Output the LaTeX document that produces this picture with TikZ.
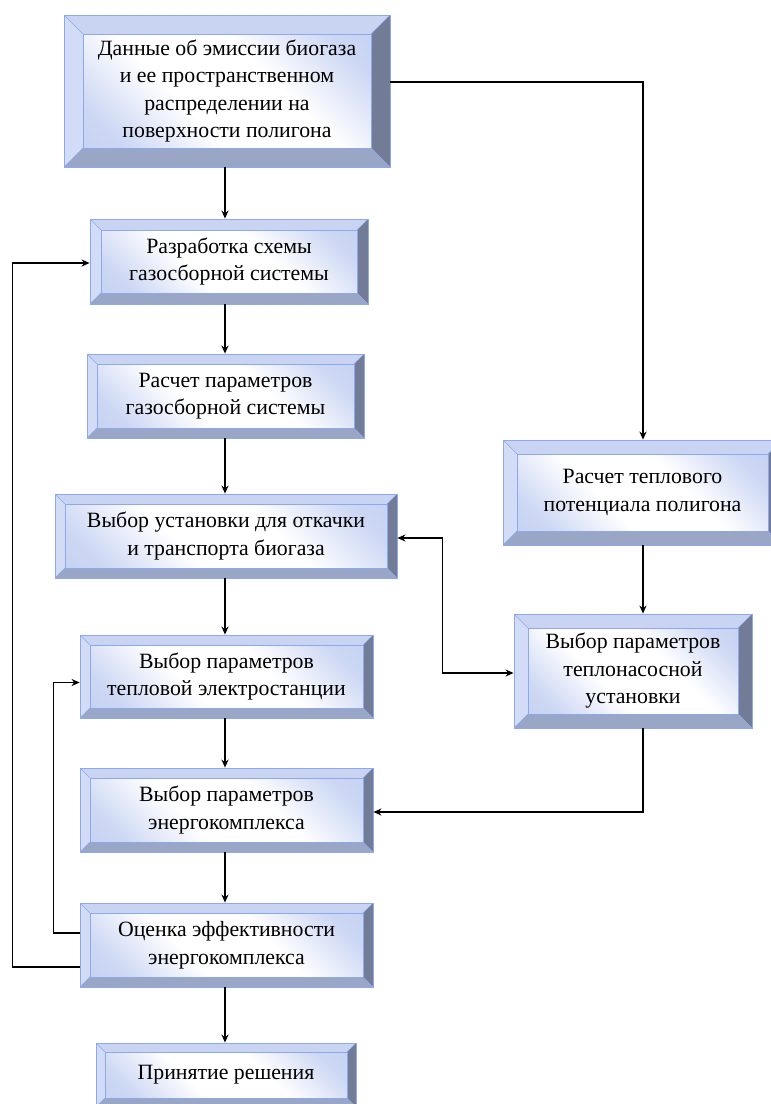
\documentclass[tikz,border=0pt]{standalone}
\usepackage{fontspec}
\setmainfont{Liberation Serif}
\usetikzlibrary{arrows.meta}
\definecolor{edgec}{HTML}{8EA8EE}
\definecolor{topc}{HTML}{C9D4F3}
\definecolor{leftc}{HTML}{D3DCF6}
\definecolor{rightc}{HTML}{737C96}
\definecolor{botc}{HTML}{99A6C6}
\definecolor{facec}{HTML}{BCCAF0}
\pgfdeclarehorizontalshading{bevface}{100bp}{color(0bp)=(facec); color(22bp)=(facec!75!white); color(40bp)=(white); color(60bp)=(white); color(78bp)=(facec!75!white); color(100bp)=(facec)}
\tikzset{
  bw/.store in=\bw, bw=10pt,
  box/.style={rectangle, draw=edgec, line width=0.8pt, inner sep=0pt, align=center, text=black,
    font=\fontsize{21.8}{27.5}\selectfont,
    path picture={
      \fill[topc] (path picture bounding box.north west) -- (path picture bounding box.north east) -- ([shift={(-\bw,-\bw)}]path picture bounding box.north east) -- ([shift={(\bw,-\bw)}]path picture bounding box.north west) -- cycle;
      \fill[leftc] (path picture bounding box.north west) -- ([shift={(\bw,-\bw)}]path picture bounding box.north west) -- ([shift={(\bw,\bw)}]path picture bounding box.south west) -- (path picture bounding box.south west) -- cycle;
      \fill[rightc] (path picture bounding box.north east) -- ([shift={(-\bw,-\bw)}]path picture bounding box.north east) -- ([shift={(-\bw,\bw)}]path picture bounding box.south east) -- (path picture bounding box.south east) -- cycle;
      \fill[botc] (path picture bounding box.south west) -- ([shift={(\bw,\bw)}]path picture bounding box.south west) -- ([shift={(-\bw,\bw)}]path picture bounding box.south east) -- (path picture bounding box.south east) -- cycle;
      \shade[shading=bevface, shading angle=45] ([shift={(\bw,-\bw)}]path picture bounding box.north west) rectangle ([shift={(-\bw,\bw)}]path picture bounding box.south east);
      \draw[edgec, line width=0.6pt] ([shift={(\bw,-\bw)}]path picture bounding box.north west) rectangle ([shift={(-\bw,\bw)}]path picture bounding box.south east);
      \draw[edgec, line width=0.5pt] (path picture bounding box.north west) -- ([shift={(\bw,-\bw)}]path picture bounding box.north west)
        (path picture bounding box.north east) -- ([shift={(-\bw,-\bw)}]path picture bounding box.north east)
        (path picture bounding box.south west) -- ([shift={(\bw,\bw)}]path picture bounding box.south west)
        (path picture bounding box.south east) -- ([shift={(-\bw,\bw)}]path picture bounding box.south east);
    }},
  arr/.style={line width=1.6pt, -{Stealth[length=8pt,width=7pt,inset=2.5pt]}},
  arrb/.style={line width=1.6pt, {Stealth[length=8pt,width=7pt,inset=2.5pt]}-{Stealth[length=8pt,width=7pt,inset=2.5pt]}}
}
\begin{document}
\begin{tikzpicture}[x=1pt,y=-1pt]
\useasboundingbox (0,0) rectangle (771,1104);
\fill[white] (0,0) rectangle (771,1104);
\clip (0,0) rectangle (771,1104);
\coordinate (col) at (225,0);
\coordinate (rcol) at (643,0);

\node[box, bw=19pt, minimum width=326pt, minimum height=152pt] (d1) at (227,91)
  {Данные об эмиссии биогаза\\и ее пространственном\\распределении на\\поверхности полигона};
\node[box, bw=11pt, minimum width=278pt, minimum height=85pt] (d2) at (229,261.5)
  {Разработка схемы\\газосборной системы};
\node[box, bw=10pt, minimum width=277pt, minimum height=84pt] (d3) at (225.5,396)
  {Расчет параметров\\газосборной системы};
\node[box, bw=10pt, minimum width=342pt, minimum height=84pt] (d4) at (226,536)
  {Выбор установки для откачки\\и транспорта биогаза};
\node[box, bw=10pt, minimum width=293pt, minimum height=83pt] (d5) at (226.5,676.5)
  {Выбор параметров\\тепловой электростанции};
\node[box, bw=10pt, minimum width=293pt, minimum height=84pt] (d6) at (226.5,810)
  {Выбор параметров\\энергокомплекса};
\node[box, bw=10pt, minimum width=293pt, minimum height=84pt] (d7) at (226.5,945)
  {Оценка эффективности\\энергокомплекса};
\node[box, bw=9pt, minimum width=260pt, minimum height=64pt] (d8) at (226,1075)
  {Принятие решения};
\node[box, bw=14pt, minimum width=279pt, minimum height=105pt] (A) at (642.5,492.5)
  {Расчет теплового\\потенциала полигона};
\node[box, bw=14pt, minimum width=238pt, minimum height=114pt] (B) at (633,671)
  {Выбор параметров\\теплонасосной\\установки};

\draw[arr] (d1.south -| col) -- (d2.north -| col);
\draw[arr] (d2.south -| col) -- (d3.north -| col);
\draw[arr] (d3.south -| col) -- (d4.north -| col);
\draw[arr] (d4.south -| col) -- (d5.north -| col);
\draw[arr] (d5.south -| col) -- (d6.north -| col);
\draw[arr] (d6.south -| col) -- (d7.north -| col);
\draw[arr] (d7.south -| col) -- (d8.north -| col);

\draw[arr] ([yshift=9pt]d1.east) -| (A.north -| rcol);
\draw[arr] (A.south -| rcol) -- (B.north -| rcol);
\draw[arr] (B.south -| rcol) |- ([yshift=-2pt]d6.east);
\draw[arrb] ([yshift=-2pt]d4.east) -- ++(45,0) |- ([yshift=-2pt]B.west);
\draw[arr] ([yshift=-22pt]d7.west) -- ++(-67,0) |- ([yshift=-1.5pt]d2.west);
\draw[arr] ([yshift=12pt]d7.west) -- ++(-26,0) |- ([yshift=-6pt]d5.west);
\end{tikzpicture}
\end{document}
